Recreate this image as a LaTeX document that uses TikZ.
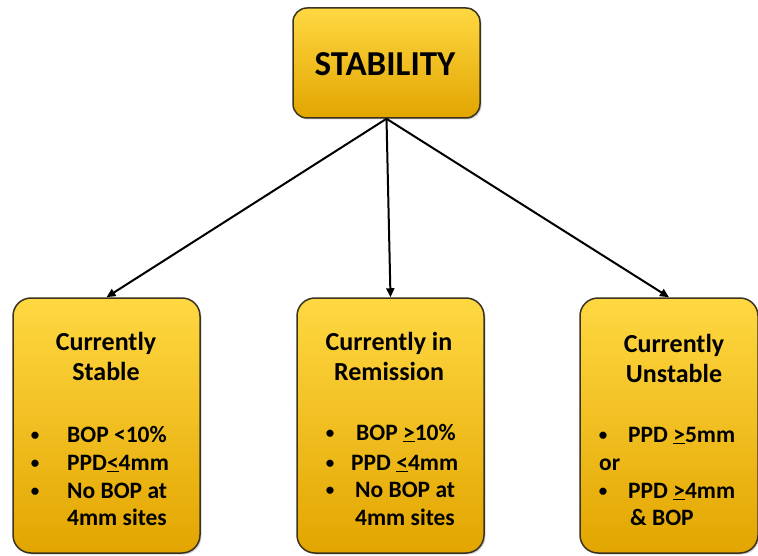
\documentclass[tikz,border=0pt]{standalone}
\usepackage{fontspec}
\setmainfont{Carlito}
\usetikzlibrary{arrows.meta,shadows}
\definecolor{gtop}{HTML}{FFD842}
\definecolor{gmid}{HTML}{FFC000}
\definecolor{gbot}{HTML}{E2A500}
\definecolor{edge}{HTML}{3A3320}
\begin{document}
\begin{tikzpicture}[x=1pt,y=-1pt,
  box/.style={draw=edge, line width=1.5pt, rounded corners=18pt,
    top color=gtop, middle color=gmid, bottom color=gbot,
    drop shadow={opacity=0.35, shadow xshift=1.5pt, shadow yshift=-1.5pt}},
  title/.style={anchor=base, inner sep=0pt, font=\fontsize{26}{30}\bfseries\selectfont},
  item/.style={anchor=base west, inner sep=0pt, font=\fontsize{23.5}{27}\bfseries\selectfont},
  bul/.style={anchor=base, inner sep=0pt, font=\fontsize{17}{20}\bfseries\selectfont},
  arr/.style={draw=black, line width=2pt, -{Triangle[length=9pt,width=8pt]}}]
\useasboundingbox (0,0) rectangle (758,556);
\fill[white] (0,0) rectangle (758,556);

% boxes
\node[box, rounded corners=14pt, minimum width=187pt, minimum height=110pt] (top) at (386.5,63) {};
\node[box, minimum width=187pt, minimum height=255pt] (stable) at (106.5,425.5) {};
\node[box, minimum width=187pt, minimum height=255pt] (remis) at (390.5,425.5) {};
\node[box, minimum width=178pt, minimum height=255pt] (unstab) at (669,425.5) {};

% top text
\node[anchor=base, inner sep=0pt, font=\fontsize{35}{40}\bfseries\selectfont] (ttl) at (385,76) {STABILITY};

% connectors
\draw[arr] (top.south) -- (stable.north);
\draw[arr] (top.south) -- (remis.north);
\draw[arr] (top.south) -- (unstab.north);

% left box
\node[title] (s1) at (106,350) {Currently};
\node[title] (s2) at (106,380) {Stable};
\node[bul] (sb1) at (35,440) {•};
\node[item] (si1) at (67,442) {BOP <10\%};
\node[bul] (sb2) at (35,468) {•};
\node[item] (si2) at (67,470) {PPD\underline{<}4mm};
\node[bul] (sb3) at (35,496) {•};
\node[item] (si3) at (67,498) {No BOP at};
\node[item] (si4) at (67,525) {4mm sites};

% middle box
\node[title] (r1) at (389,350) {Currently in};
\node[title] (r2) at (389,380) {Remission};
\node[bul] (rb1) at (330,438) {•};
\node[item] (ri1) at (356,440) {BOP \underline{>}10\%};
\node[bul] (rb2) at (330,468) {•};
\node[item] (ri2) at (351,470) {PPD \underline{<}4mm};
\node[bul] (rb3) at (330,495) {•};
\node[item] (ri3) at (355,497) {No BOP at};
\node[item] (ri4) at (355,525) {4mm sites};

% right box
\node[title] (u1) at (674,352) {Currently};
\node[title] (u2) at (674,382) {Unstable};
\node[bul] (ub1) at (603,440) {•};
\node[item] (ui1) at (628,442) {PPD \underline{>}5mm};
\node[item] (ui2) at (599,470) {or};
\node[bul] (ub2) at (603,496) {•};
\node[item] (ui3) at (628,498) {PPD \underline{>}4mm};
\node[item] (ui4) at (630,525) {\& BOP};
\end{tikzpicture}
\end{document}
